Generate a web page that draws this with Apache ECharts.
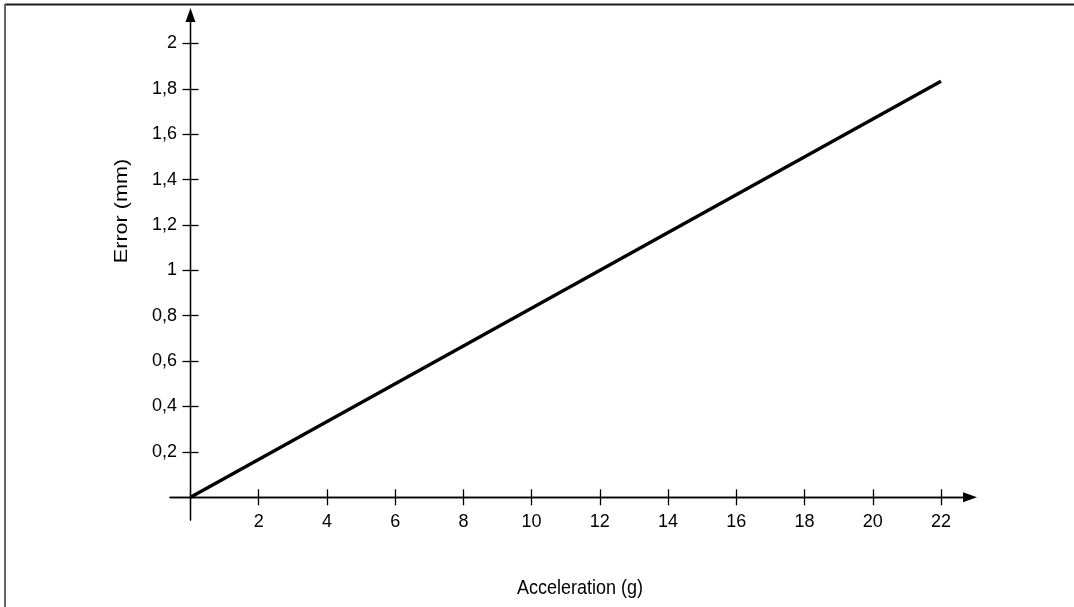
<!DOCTYPE html>
<html>
<head>
<meta charset="utf-8">
<script src="https://cdn.jsdelivr.net/npm/echarts@6/dist/echarts.min.js"></script>
<style>
html,body{margin:0;padding:0;background:#fff;}
#c{width:1074px;height:607px;}
</style>
</head>
<body>
<div id="c"></div>
<script>
// Data
const acceleration = [0, 22];
const errorMm = [0, 1.833];
const xTickValues = [2, 4, 6, 8, 10, 12, 14, 16, 18, 20, 22];
const yTickValues = [0.2, 0.4, 0.6, 0.8, 1, 1.2, 1.4, 1.6, 1.8, 2];
const xTitle = 'Acceleration (g)';
const yTitle = 'Error (mm)';

const FONT = '"Liberation Sans", Arial, sans-serif';
const fmt = v => String(+v.toFixed(2)).replace('.', ',');
const lineData = acceleration.map((x, i) => [x, errorMm[i]]);

function xAx(primary) {
  return {
    type: 'value', min: -0.6, max: 22.85,
    position: primary ? 'bottom' : 'top',
    axisLine: {
      show: true, onZero: true, onZeroAxisIndex: 0,
      symbol: primary ? ['none', 'triangle'] : 'none',
      symbolSize: [10, 14],
      lineStyle: { color: '#000', width: 1.3 }
    },
    axisTick: { show: true, length: 8, customValues: xTickValues, lineStyle: { color: '#000', width: 1.3 } },
    axisLabel: {
      show: primary, customValues: xTickValues, formatter: fmt,
      color: '#000', fontFamily: FONT, fontSize: 18, margin: -7
    },
    splitLine: { show: false }
  };
}
function yAx(primary) {
  return {
    type: 'value', min: -0.1, max: 2.125,
    position: primary ? 'left' : 'right',
    axisLine: {
      show: true, onZero: true, onZeroAxisIndex: 0,
      symbol: primary ? ['none', 'triangle'] : 'none',
      symbolSize: [10, 14],
      lineStyle: { color: '#000', width: 1.3 }
    },
    axisTick: { show: true, length: 8, customValues: yTickValues, lineStyle: { color: '#000', width: 1.3 } },
    axisLabel: {
      show: primary, customValues: yTickValues, formatter: fmt,
      color: '#000', fontFamily: FONT, fontSize: 18, margin: -7
    },
    splitLine: { show: false }
  };
}

const chart = echarts.init(document.getElementById('c'), null, { renderer: 'canvas' });
chart.setOption({
  animation: false,
  backgroundColor: '#fff',
  grid: { left: 170, top: 15, width: 800, height: 505, containLabel: false, outerBoundsMode: 'none' },
  xAxis: [xAx(true), xAx(false)],
  yAxis: [yAx(true), yAx(false)],
  series: [{
    type: 'line', data: lineData, showSymbol: false, symbol: 'none',
    lineStyle: { color: '#000', width: 3.3 }, clip: false
  }],
  graphic: [
    { type: 'line', shape: { x1: 5, y1: 4.5, x2: 1074, y2: 4.5 }, style: { stroke: '#1a1a1a', lineWidth: 2 } },
    { type: 'line', shape: { x1: 5, y1: 4, x2: 5, y2: 607 }, style: { stroke: '#666', lineWidth: 2 } },
    { type: 'text', x: 580, y: 588, scaleY: 1.15, style: { text: xTitle, font: '18px ' + FONT, fill: '#000', align: 'center', verticalAlign: 'middle' } },
    { type: 'text', x: 122, y: 211, rotation: Math.PI / 2, scaleX: 1.2, style: { text: yTitle, font: '18px ' + FONT, fill: '#000', align: 'center', verticalAlign: 'middle' } }
  ]
});
</script>
</body>
</html>
